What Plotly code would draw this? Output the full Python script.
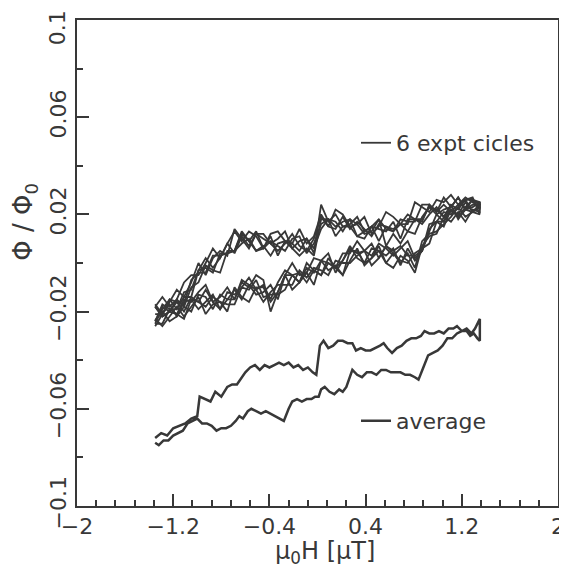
import plotly.graph_objects as go

# ---------------- data (flux values in units of 1e-3 Phi_0) ----------------
H_grid = [-1.35, -1.29, -1.23, -1.17, -1.11, -1.05, -0.99, -0.93, -0.87, -0.81,
          -0.75, -0.69, -0.63, -0.57, -0.51, -0.45, -0.39, -0.33, -0.27, -0.21,
          -0.15, -0.09, -0.03, 0.03, 0.09, 0.15, 0.21, 0.27, 0.33, 0.39,
          0.45, 0.51, 0.57, 0.63, 0.69, 0.75, 0.81, 0.87, 0.93, 0.99,
          1.05, 1.11, 1.17, 1.23, 1.29, 1.35]

# upper (descending-field) branches of the six cycles
up1 = [-17, -21, -16, -11, -14, -8, 0, -5, 2, 5, 3, 14, 10, 6, 12, 12, 8, 10, 13, 6, 9, 10, 4, 24, 17, 20, 15, 16, 19, 13, 15, 18, 14, 13, 18, 17, 17, 24, 24, 21, 27, 23, 27, 22, 26, 24]
up2 = [-24, -19, -15, -19, -14, -14, -3, -2, -4, 4, 4, 5, 13, 9, 5, 6, 11, 3, 9, 8, 5, 10, 6, 14, 18, 15, 17, 18, 11, 10, 15, 14, 13, 17, 10, 18, 18, 18, 23, 22, 19, 24, 22, 26, 21, 23]
up3 = [-18, -14, -18, -15, -8, -5, -5, 0, 6, 2, 8, 13, 9, 13, 11, 6, 12, 13, 9, 8, 14, 8, 11, 20, 15, 22, 20, 15, 16, 19, 12, 15, 21, 19, 16, 16, 25, 23, 21, 26, 25, 28, 24, 27, 25, 23]
up4 = [-18, -22, -20, -15, -18, -10, -8, -1, -3, -4, 5, 5, 8, 10, 5, 7, 3, 8, 9, 6, 3, 6, 3, 18, 18, 11, 15, 15, 11, 13, 15, 9, 15, 14, 16, 13, 18, 16, 20, 23, 19, 22, 19, 22, 24, 24]
up5 = [-21, -21, -15, -16, -17, -7, -4, -4, 3, 3, 4, 5, 12, 9, 13, 6, 9, 7, 5, 10, 11, 4, 8, 16, 18, 17, 13, 18, 16, 12, 13, 18, 7, 12, 8, 13, 12, 19, 23, 20, 22, 23, 27, 22, 23, 25]
up6 = [-24, -17, -19, -19, -12, -11, -3, 2, -2, 2, 8, 4, 11, 7, 12, 10, 8, 5, 8, 12, 7, 5, 10, 19, 15, 14, 19, 14, 17, 14, 11, 16, 15, 13, 16, 20, 18, 17, 24, 21, 24, 21, 24, 26, 27, 20]

# lower (ascending-field) branches of the six cycles
lo1 = [-18, -22, -20, -16, -20, -14, -16, -11, -16, -19, -12, -13, -10, -6, -11, -9, -15, -8, -3, -5, -8, -2, -4, 1, 4, -4, 1, 6, 4, 5, 8, 2, 7, 5, 7, 3, 3, 5, 13, 20, 17, 22, 19, 23, 26, 25]
lo2 = [-25, -25, -19, -21, -23, -15, -16, -18, -14, -16, -17, -17, -10, -11, -7, -14, -13, -13, -11, -5, -4, -8, -3, -5, 0, -2, -5, 5, 5, 0, 2, 7, 0, 4, 0, 4, -2, 9, 12, 13, 16, 19, 23, 19, 21, 24]
lo3 = [-25, -18, -20, -21, -15, -16, -12, -9, -16, -14, -10, -15, -8, -10, -5, -7, -20, -12, -5, 0, -5, -4, 2, 1, 0, -2, 4, 4, 9, 5, 3, 8, 6, 3, 6, 9, 2, 5, 16, 17, 21, 20, 23, 26, 26, 22]
lo4 = [-23, -26, -22, -18, -22, -18, -14, -21, -17, -16, -20, -10, -14, -16, -10, -10, -16, -12, -5, -11, -8, -4, -9, 1, -3, -1, -5, 1, 6, -1, 2, 5, 0, -2, 3, 1, -4, 7, 11, 12, 19, 17, 21, 17, 22, 21]
lo5 = [-26, -21, -17, -22, -18, -20, -13, -14, -19, -13, -15, -15, -7, -9, -13, -12, -9, -15, -5, -5, -8, 0, -3, -5, 2, -2, 1, 7, 2, 0, 6, 5, 3, 6, -1, 6, 1, 5, 14, 17, 15, 22, 20, 25, 21, 24]
lo6 = [-24, -20, -24, -22, -16, -15, -19, -16, -13, -19, -15, -11, -15, -9, -11, -16, -12, -9, -9, -9, -3, -6, -2, -3, -5, 1, 0, 0, 3, 5, -1, 2, 7, 4, 1, 0, 4, 6, 8, 17, 17, 24, 18, 22, 21, 20]

# average loop (shown offset below the cycles)
avg_up_x = [-1.35, -1.30, -1.25, -1.20, -1.15, -1.10, -1.05, -1.00, -0.98, -0.93, -0.89, -0.85, -0.80,
            -0.75, -0.71, -0.67, -0.64, -0.60, -0.56, -0.52, -0.48, -0.44, -0.40, -0.36, -0.32,
            -0.28, -0.24, -0.20, -0.16, -0.12, -0.08, -0.04, -0.01, 0.02, 0.05, 0.09, 0.13, 0.17,
            0.21, 0.25, 0.29, 0.32, 0.36, 0.40, 0.44, 0.48, 0.52, 0.55, 0.58, 0.62, 0.66, 0.70,
            0.74, 0.78, 0.82, 0.86, 0.89, 0.93, 0.97, 1.01, 1.05, 1.09, 1.13, 1.16, 1.20, 1.24,
            1.28, 1.31, 1.35]
avg_up_y = [-72, -70, -71, -68, -67, -66, -64, -63, -55, -56, -57, -53, -55,
            -51, -50, -50, -48, -45, -43, -42, -44, -42, -43, -42, -41,
            -42, -41, -43, -42, -44, -43, -45, -46, -34, -32, -35, -34, -32,
            -32, -33, -33, -36, -35, -36, -36, -35, -34, -33, -35, -37, -35, -34,
            -32, -31, -31, -30, -28, -29, -29, -28, -29, -27, -27, -26, -28, -27,
            -29, -27, -23]

avg_lo_x = [-1.35, -1.32, -1.28, -1.24, -1.20, -1.16, -1.12, -1.08, -1.04, -1.00, -0.96, -0.92,
            -0.88, -0.84, -0.80, -0.76, -0.72, -0.68, -0.65, -0.62, -0.58, -0.55, -0.51, -0.47,
            -0.43, -0.39, -0.35, -0.31, -0.28, -0.24, -0.21, -0.17, -0.13, -0.09, -0.05, -0.02,
            0.01, 0.03, 0.06, 0.10, 0.14, 0.18, 0.21, 0.24, 0.27, 0.29, 0.33, 0.37, 0.41, 0.45,
            0.49, 0.53, 0.57, 0.61, 0.65, 0.69, 0.73, 0.77, 0.81, 0.84, 0.88, 0.92, 0.96, 1.00,
            1.04, 1.08, 1.12, 1.16, 1.20, 1.24, 1.27, 1.30, 1.33, 1.35]
avg_lo_y = [-74, -75, -73, -73, -71, -70, -69, -66, -65, -64, -66, -66,
            -67, -69, -68, -68, -67, -65, -63, -64, -61, -60, -61, -62,
            -61, -62, -63, -64, -65, -60, -57, -56, -57, -56, -56, -55,
            -55, -52, -51, -53, -54, -52, -53, -51, -47, -44, -46, -47, -45, -45,
            -46, -44, -44, -45, -45, -45, -46, -46, -47, -48, -43, -38, -37, -36,
            -34, -31, -31, -29, -28, -28, -30, -29, -31, -32]

SCALE = 1e-3
cycles_up = [up1, up2, up3, up4, up5, up6]
cycles_lo = [lo1, lo2, lo3, lo4, lo5, lo6]

x_ticks = [-2, -1.2, -0.4, 0.4, 1.2, 2]
x_tick_text = ["\u22122", "\u22121.2", "\u22120.4", "0.4", "1.2", "2"]
y_ticks = [-0.1, -0.06, -0.02, 0.02, 0.06, 0.1]
# top label "0.1" is drawn as an annotation so it is not clipped by the page edge
y_tick_text = ["\u22120.1", "\u22120.06", "\u22120.02", "0.02", "0.06", ""]
y_top_label = "0.1"

INK = "#383838"
FONT = "DejaVu Sans"

fig = go.Figure()

for i, (up, lo) in enumerate(zip(cycles_up, cycles_lo)):
    xs = H_grid + H_grid[::-1]
    ys = [v * SCALE for v in lo] + [v * SCALE for v in up[::-1]]
    fig.add_trace(go.Scatter(
        x=xs, y=ys, mode="lines",
        line=dict(color=INK, width=1.8),
        name="6 expt cicles", legendgroup="cyc",
        showlegend=(i == 0), legend="legend",
    ))

fig.add_trace(go.Scatter(
    x=avg_lo_x + avg_up_x[::-1],
    y=[v * SCALE for v in avg_lo_y] + [v * SCALE for v in avg_up_y[::-1]],
    mode="lines", line=dict(color=INK, width=2.5),
    name="average", legend="legend2",
))

axis_common = dict(
    showgrid=False, zeroline=False, showline=True, linecolor=INK, linewidth=2,
    mirror=True, ticks="inside", tickcolor=INK, tickwidth=2, ticklen=12,
    tickfont=dict(family=FONT, size=22, color=INK), automargin=False,
    ticklabeloverflow="allow",
)

fig.update_xaxes(
    range=[-2, 2], tickvals=x_ticks, ticktext=x_tick_text,
    minor=dict(ticks="inside", dtick=0.16, tick0=-2, ticklen=6, tickwidth=1.5, tickcolor=INK),
    **axis_common,
)
fig.update_yaxes(
    range=[-0.1, 0.1], tickvals=y_ticks, ticktext=y_tick_text, tickangle=-90,
    minor=dict(ticks="inside", dtick=0.02, tick0=-0.1, ticklen=6, tickwidth=1.5, tickcolor=INK),
    **axis_common,
)

# the page body adds an 8 px margin, so the figure is made 8 px smaller
fig.update_layout(
    width=559, height=560,
    margin=dict(l=69, r=9, t=12, b=62),
    plot_bgcolor="white", paper_bgcolor="white",
    font=dict(family=FONT, color=INK),
    legend=dict(x=0.58, y=0.747, xanchor="left", yanchor="middle",
                bgcolor="rgba(0,0,0,0)", font=dict(family=FONT, size=22, color=INK)),
    legend2=dict(x=0.58, y=0.175, xanchor="left", yanchor="middle",
                 bgcolor="rgba(0,0,0,0)", font=dict(family=FONT, size=22, color=INK)),
    annotations=[
        dict(text="\u03bc<sub>0</sub>H [\u03bcT]", xref="paper", yref="paper",
             x=0.516, y=-0.096, xanchor="center", yanchor="middle", showarrow=False,
             font=dict(family=FONT, size=24, color=INK)),
        dict(text="\u03a6 / \u03a6<sub>0</sub>", xref="paper", yref="paper",
             x=-0.109, y=0.584, xanchor="center", yanchor="middle", showarrow=False,
             textangle=-90, font=dict(family=FONT, size=26, color=INK)),
        dict(text=y_top_label, xref="paper", yref="paper",
             x=-0.04, y=1.0247, xanchor="center", yanchor="top", showarrow=False,
             textangle=-90, font=dict(family=FONT, size=22, color=INK)),
    ],
)

fig.write_html("out.html")
